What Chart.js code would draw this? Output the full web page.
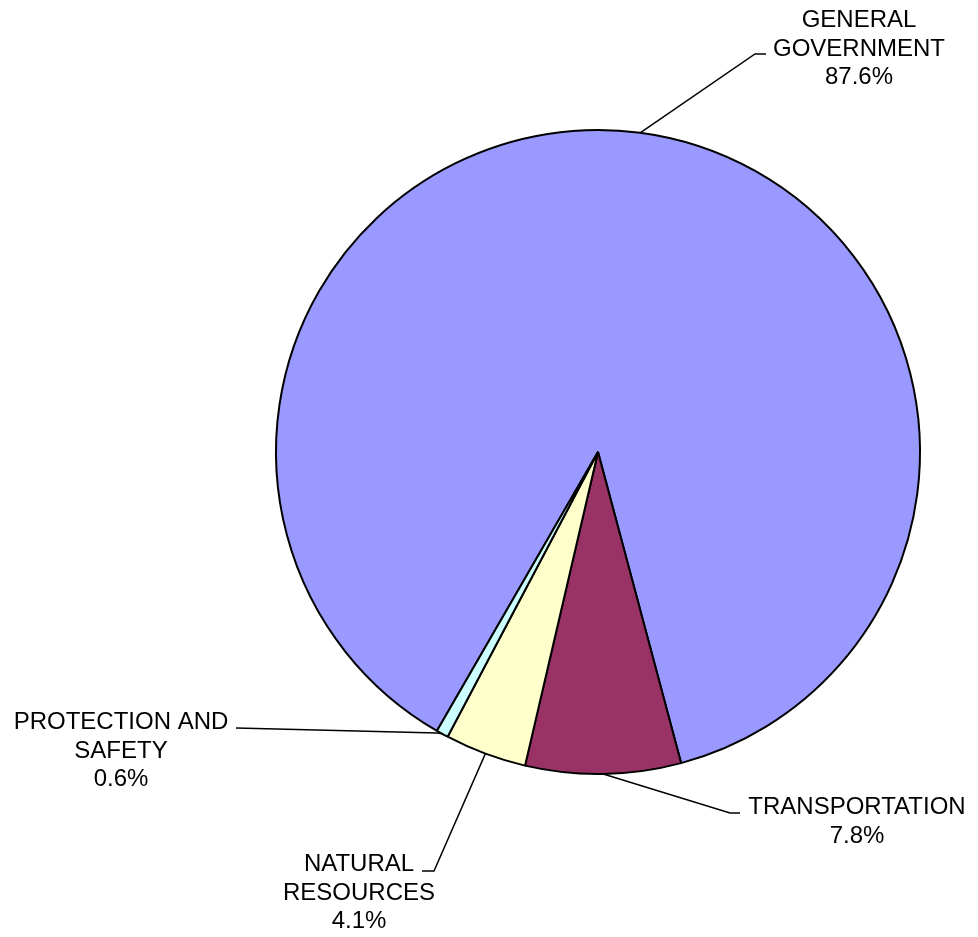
<!DOCTYPE html>
<html>
<head>
<meta charset="utf-8">
<title>Expenditures by function</title>
<script src="https://cdn.jsdelivr.net/npm/chart.js@4.4.1/dist/chart.umd.min.js"></script>
<style>
  html, body { margin: 0; padding: 0; background: #fff; }
  #wrap { width: 978px; height: 937px; position: relative; }
</style>
</head>
<body>
<div id="wrap"><canvas id="pieChart"></canvas></div>
<script>
// category names, one entry per text line
const categories = [
  ['GENERAL', 'GOVERNMENT'],
  ['TRANSPORTATION'],
  ['NATURAL', 'RESOURCES'],
  ['PROTECTION AND', 'SAFETY']
];
// share of total, percent
const shares = [87.6, 7.8, 4.1, 0.6];
const sliceColors = ['#9999FF', '#993366', '#FFFFCC', '#CCFFFF'];

// where each label sits: text centre x, first baseline y, leader elbow and end
const labelLayout = [
  { x: 859, y: 27, elbow: [755, 54], end: [766, 54] },
  { x: 857, y: 814, elbow: [730, 813], end: [740, 813] },
  { x: 359, y: 871, elbow: [434, 871], end: [422, 871] },
  { x: 121, y: 729, elbow: [437, 733], end: [236, 728] }
];
const LINE_H = 28.5;

const leaderLabels = {
  id: 'leaderLabels',
  afterDatasetsDraw(chart) {
    const ctx = chart.ctx;
    const arcs = chart.getDatasetMeta(0).data;
    ctx.save();
    ctx.font = '24px "Liberation Sans", Arial, sans-serif';
    ctx.fillStyle = '#000';
    ctx.strokeStyle = '#000';
    ctx.lineWidth = 1.5;
    ctx.textAlign = 'center';
    ctx.textBaseline = 'alphabetic';
    arcs.forEach(function (arc, i) {
      const p = arc.getProps(['x', 'y', 'startAngle', 'endAngle', 'outerRadius'], true);
      const mid = (p.startAngle + p.endAngle) / 2;
      const sx = p.x + Math.cos(mid) * p.outerRadius;
      const sy = p.y + Math.sin(mid) * p.outerRadius;
      const lay = labelLayout[i];
      ctx.beginPath();
      ctx.moveTo(sx, sy);
      ctx.lineTo(lay.elbow[0], lay.elbow[1]);
      ctx.lineTo(lay.end[0], lay.end[1]);
      ctx.stroke();
      const lines = categories[i].concat([shares[i].toFixed(1) + '%']);
      lines.forEach(function (t, k) {
        ctx.fillText(t, lay.x, lay.y + k * LINE_H);
      });
    });
    ctx.restore();
  }
};

new Chart(document.getElementById('pieChart'), {
  type: 'pie',
  data: {
    labels: categories.map(c => c.join(' ')),
    datasets: [{
      data: shares,
      backgroundColor: sliceColors,
      borderColor: '#000',
      borderWidth: 2
    }]
  },
  options: {
    responsive: true,
    maintainAspectRatio: false,
    animation: false,
    rotation: 210,
    layout: { padding: { left: 275, right: 57, top: 129, bottom: 162 } },
    plugins: {
      legend: { display: false },
      tooltip: { enabled: false }
    }
  },
  plugins: [leaderLabels]
});
</script>
</body>
</html>
